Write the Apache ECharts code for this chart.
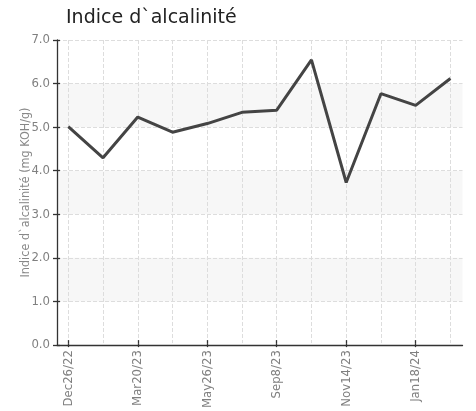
<!DOCTYPE html>
<html>
<head>
<meta charset="utf-8">
<script src="https://cdn.jsdelivr.net/npm/echarts@6/dist/echarts.min.js"></script>
<style>html,body{margin:0;padding:0;background:#fff}#c{width:476px;height:411px}</style>
</head>
<body>
<div id="c"></div>
<script>
var categories = ['Dec26/22','Feb8/23','Mar20/23','Apr24/23','May26/23','Jul10/23','Sep8/23','Oct12/23','Nov14/23','Dec14/23','Jan18/24','Feb20/24'];
var values = [5.00, 4.28, 5.22, 4.87, 5.07, 5.33, 5.38, 6.54, 3.71, 5.76, 5.49, 6.11];
var yTicks = [0, 1, 2, 3, 4, 5, 6, 7];

var narrow = "'Liberation Sans Narrow','DejaVu Sans Condensed','Roboto',sans-serif";
var chart = echarts.init(document.getElementById('c'));
chart.setOption({
  animation: false,
  title: {
    text: 'Indice d`alcalinité',
    left: 61, top: 4,
    textStyle: {fontFamily: 'DejaVu Sans', fontSize: 19, fontWeight: 'normal', color: '#222'}
  },
  grid: [
    {left: 57, right: 13.5, top: 40, bottom: 66},
    {left: 68.3, right: 25.6, top: 40, bottom: 66}
  ],
  xAxis: [
    {gridIndex: 0, type: 'value', min: 0, max: 1,
     axisLine: {show: true, lineStyle: {color: '#333', width: 1.3}},
     axisTick: {show: false}, axisLabel: {show: false}, splitLine: {show: false}},
    {gridIndex: 1, type: 'category', data: categories, boundaryGap: false,
     axisLine: {show: false},
     axisTick: {show: true, interval: 1, length: 4, lineStyle: {color: '#333', width: 1.3}},
     axisLabel: {interval: 1, rotate: 90, color: '#808080', fontFamily: narrow, fontSize: 13, margin: 7},
     splitLine: {show: true, interval: 0, lineStyle: {type: 'dashed', color: '#ddd'}}},
    {gridIndex: 1, type: 'category', data: categories, boundaryGap: false, position: 'bottom',
     axisLine: {show: false},
     axisTick: {show: true, inside: true, interval: 1, length: 3, lineStyle: {color: '#333', width: 1.3}},
     axisLabel: {show: false}, splitLine: {show: false}}
  ],
  yAxis: [
    {gridIndex: 0, type: 'value', min: yTicks[0], max: yTicks[yTicks.length - 1], interval: 1,
     name: 'Indice d`alcalinité (mg KOH/g)', nameLocation: 'middle', nameGap: 25, nameMoveOverlap: false,
     nameTextStyle: {color: '#888', fontFamily: narrow, fontSize: 12.5},
     axisLine: {show: true, lineStyle: {color: '#333', width: 1.3}},
     axisTick: {show: true, length: 4, lineStyle: {color: '#333', width: 1.3}},
     axisLabel: {color: '#808080', fontFamily: narrow, fontSize: 13, margin: 7,
                 formatter: function (v) { return v.toFixed(1); }},
     splitLine: {show: true, lineStyle: {type: 'dashed', color: '#ddd'}},
     splitArea: {show: true, areaStyle: {color: ['rgba(255,255,255,0)', '#f7f7f7']}}},
    {gridIndex: 0, type: 'value', min: 0, max: 7, interval: 1, position: 'left',
     axisLine: {show: false},
     axisTick: {show: true, inside: true, length: 3, lineStyle: {color: '#333', width: 1.3}},
     axisLabel: {show: false}, splitLine: {show: false}},
    {gridIndex: 1, type: 'value', min: 0, max: 7, show: false}
  ],
  series: [{
    type: 'line', xAxisIndex: 1, yAxisIndex: 2, data: values,
    showSymbol: false, symbol: 'none',
    lineStyle: {color: '#444', width: 3}
  }]
});
</script>
</body>
</html>
